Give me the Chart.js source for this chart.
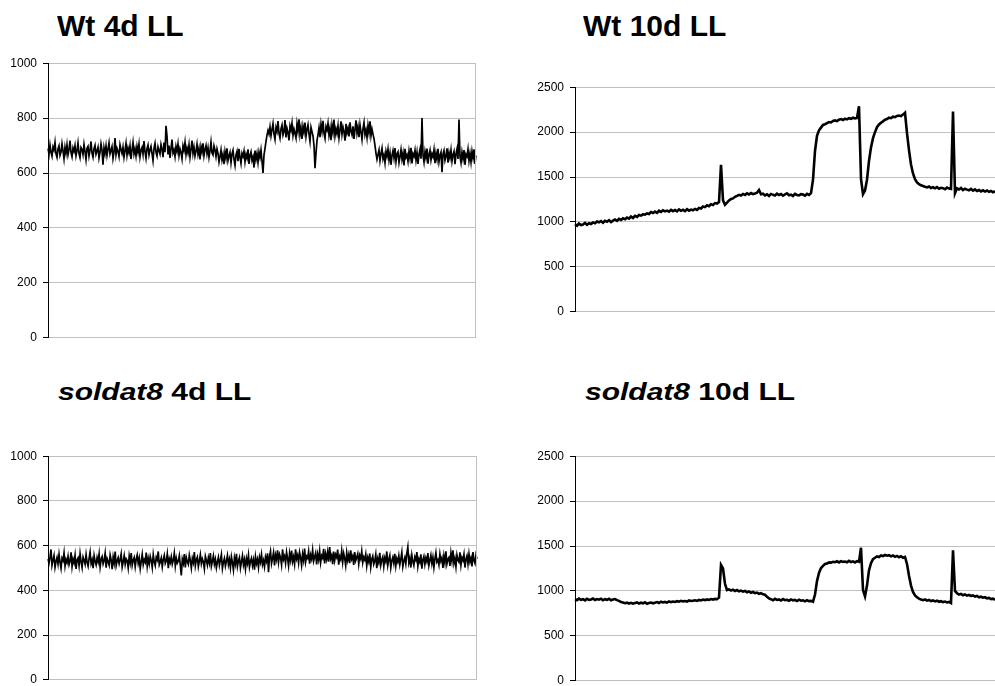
<!DOCTYPE html>
<html>
<head>
<meta charset="utf-8">
<script src="https://cdn.jsdelivr.net/npm/chart.js@4"></script>
<style>
  html, body { margin: 0; padding: 0; width: 995px; height: 686px; overflow: hidden; background: #fff; }
  .panel { position: absolute; }
  .panel canvas { display: block; }
  .title {
    position: absolute;
    font-family: "Liberation Sans", Arial, sans-serif;
    font-weight: bold;
    font-size: 30px;
    line-height: 30px;
    white-space: nowrap;
    color: #000;
    transform-origin: 0 25.4px;
  }
</style>
</head>
<body>
<div class="title" style="left:57px;top:10.6px;transform:scaleY(0.96)">Wt 4d LL</div>
<div class="title" style="left:583px;top:10.6px;transform:scaleY(0.96)">Wt 10d LL</div>
<div class="title" style="left:58px;top:374.6px;transform:scaleY(0.81)"><i>soldat8</i> 4d LL</div>
<div class="title" style="left:585px;top:374.6px;transform:scaleY(0.81)"><i>soldat8</i> 10d LL</div>

<div class="panel" style="left:0px;top:50px"><canvas id="wt4" width="486" height="301"></canvas></div>
<div class="panel" style="left:527px;top:74px"><canvas id="wt10" width="478" height="251"></canvas></div>
<div class="panel" style="left:0px;top:443px"><canvas id="sol4" width="487" height="250"></canvas></div>
<div class="panel" style="left:527px;top:443px"><canvas id="sol10" width="478" height="251"></canvas></div>

<script>
// y-axis tick values for the two scale ranges
const yTicks4d = [0, 200, 400, 600, 800, 1000];
const yTicks10d = [0, 500, 1000, 1500, 2000, 2500];

// Wt, 4 days constant light
const wt4d = [
  690,668,702,675,661,695,684,712,670,657,
  688,699,664,676,707,681,652,694,672,703,
  666,685,718,674,659,691,679,700,663,682,
  710,671,656,693,686,667,704,678,649,690,
  697,662,683,715,673,658,689,701,668,680,
  694,655,675,706,684,630,692,671,699,664,
  687,710,669,681,696,653,676,727,667,690,
  679,660,703,686,671,694,658,682,708,665,
  691,674,699,651,684,712,670,688,662,697,
  676,705,659,683,693,668,716,678,654,689,
  702,666,684,697,672,645,690,708,675,662,
  695,681,669,704,687,658,711,676,
  772,735,
  668,700,655,689,722,673,684,660,697,679,
  706,664,688,675,652,699,683,712,667,691,
  673,702,658,686,718,671,694,662,680,705,
  669,689,650,696,677,708,663,685,700,670,
  692,657,681,713,674,666,699,684,660,688,
  672,640,660,684,648,667,632,678,655,690,
  645,662,675,638,670,683,650,628,666,679,
  643,688,657,635,672,661,680,641,668,654,
  686,633,664,677,646,659,620,682,650,671,
  639,676,657,684,644,600,
  665,690,715,738,755,742,768,
  735,758,780,741,722,766,752,
  789,744,727,761,775,738,750,793,730,763,
  748,719,771,756,782,737,760,745,728,779,
  753,796,740,765,724,770,749,784,733,758,
  776,742,715,767,751,735,
  700,618,672,718,
  740,765,731,778,752,790,744,726,769,757,
  781,738,762,720,774,749,795,735,760,743,
  772,728,756,788,741,767,750,718,779,746,
  763,733,785,752,739,770,724,758,792,745,
  768,731,776,750,722,762,784,740,757,729,
  773,747,788,736,760,742,
  725,700,672,650,668,
  684,645,671,690,652,666,637,679,661,
  687,648,673,630,664,682,655,691,642,669,
  677,638,660,685,650,672,628,688,657,666,
  643,680,654,692,635,670,661,683,647,675,
  633,668,686,652,
  800,665,
  640,678,656,689,634,667,683,648,670,659,
  685,636,672,650,688,641,664,676,603,669,
  682,646,661,690,638,674,655,684,643,667,
  679,632,670,688,651,
  795,660,
  638,676,652,684,630,668,660,687,645,671,
  640,679,655,686,633,664
];

// Wt, 10 days constant light
const wt10d = [
  975,958,982,966,972,990,969,985,977,995,
  985,1004,996,1010,991,1012,1003,1020,998,1015,
  1028,1012,1035,1022,1040,1030,1048,1036,1060,1044,
  1068,1056,1078,1070,1085,1082,1095,1088,1110,1100,
  1115,1102,1125,1112,1130,1118,1126,1114,1135,1120,
  1132,1118,1140,1124,1135,1121,1142,1126,1138,1130,
  1145,1133,1155,1150,1172,1165,1185,1175,1198,1190,
  1210,1205,1222,
  1637,1240,1192,1215,1240,1255,1262,1280,1290,1302,
  1295,1312,1300,1318,1306,1322,1310,1316,1325,1355,1308,
  1315,1296,1308,1290,1312,1302,1295,1316,1300,1310,
  1292,1306,1318,1298,1304,1289,1313,1301,1296,1310,
  1305,1293,1312,1300,1320,
  1470,1790,1960,2020,2050,2080,2088,2100,2112,2108,2125,
  2130,2122,2138,2145,2135,2150,2142,2155,2148,2160,2152,2158,
  2287,1480,1310,1350,1470,1680,1830,1933,
  2000,2055,2085,2105,2120,2138,2145,2160,2155,2172,2168,2180,2185,2178,2195,2215,
  1990,1800,1640,1540,1475,1440,1420,1408,1400,1392,1385,1395,1378,1386,
  1374,1388,1370,1380,1376,1365,1384,1372,1368,
  2229,1320,1375,1362,
  1378,1355,1370,1360,1352,1368,1348,1362,1345,1356,
  1340,1352,1338,1350,1335,1345,1330,1342
];

// soldat8, 4 days constant light
const soldat8_4d = [
  540,521,548,583,512,535,556,503,529,547,
  518,561,526,499,544,533,568,509,538,524,
  552,515,531,570,507,540,523,557,496,536,
  545,511,564,528,502,549,534,517,560,525,
  508,543,571,520,537,499,555,530,514,547,
  527,562,505,539,551,518,533,566,501,542,
  529,513,558,536,495,548,522,573,510,531,
  546,519,538,563,504,527,555,516,541,532,
  500,553,524,567,512,535,547,506,539,558,
  521,544,497,530,561,515,537,526,569,508,
  543,518,552,533,502,560,529,511,548,536,
  574,514,527,545,505,538,556,520,532,563,
  499,541,525,550,517,535,566,509,544,522,
  531,555,512,467,539,521,562,503,547,528,
  516,558,534,500,543,525,571,511,538,549,
  506,532,560,519,541,527,497,553,535,513,
  546,523,567,508,530,554,517,539,501,528,
  548,512,535,560,498,526,543,509,531,556,
  515,538,502,550,524,491,545,519,563,507,
  532,547,500,528,555,514,537,496,542,521,
  558,505,530,544,511,536,493,551,520,539,
  503,548,527,560,515,534,506,549,
  531,566,481,552,575,520,543,569,512,558,538,579,
  526,561,547,515,583,539,553,522,571,544,
  510,565,536,578,529,550,518,584,541,557,
  523,570,548,513,562,535,587,527,552,544,
  574,519,558,540,580,531,549,567,516,561,
  537,576,524,555,545,586,520,563,539,571,
  528,594,542,556,517,573,534,560,548,582,
  515,551,538,577,526,565,543,511,568,535,
  559,522,579,540,553,514,571,533,547,563,
  518,556,541,575,525,549,537,562,
  510,546,528,565,504,539,553,517,531,560,499,542,
  524,568,513,537,550,507,545,529,574,512,
  538,556,501,533,548,521,563,509,542,527,
  555,515,540,570,506,531,547,519,566,594,
  523,544,502,558,530,512,549,536,571,508,
  540,526,561,497,537,552,516,545,529,567,
  511,534,557,520,548,503,541,569,527,536,
  514,562,531,545,500,553,523,575,518,539,
  547,509,566,532,579,521,543,505,558,536,
  527,570,513,546,534,561,502,540,555,518,
  563,528,545,507,571,533,520,558,540
];

// soldat8, 10 days constant light
const soldat8_10d = [
  910,898,915,902,908,895,912,900,906,916,
  899,910,903,914,896,908,901,913,897,905,
  910,898,890,878,872,864,870,860,868,858,
  866,872,860,869,862,874,858,866,871,863,
  870,876,866,880,872,878,870,884,876,882,
  878,886,880,890,884,888,882,894,888,892,
  896,890,900,894,904,898,906,900,910,904,
  912,908,925,
  1290,1250,1080,1010,1018,
  1005,1015,1000,1010,996,1004,992,1000,986,994,
  980,988,975,982,968,975,962,958,
  935,918,
  908,896,912,900,905,893,910,898,902,890,
  906,895,900,888,903,892,896,885,898,887,890,880,
  960,1110,1200,1255,1280,1300,1305,1318,
  1315,1325,1320,1330,1318,1332,1324,1328,1320,1335,
  1322,1330,1318,1332,1325,
  1481,1010,940,1060,1230,1310,1355,
  1370,1385,1378,1395,1388,1400,1392,1398,1385,1395,
  1380,1390,1375,1386,1370,1378,
  1300,1170,1060,990,950,930,915,905,
  898,906,892,900,888,895,884,892,880,886,
  876,882,872,878,865,
  1452,1000,975,
  960,968,952,962,948,955,944,950,938,945,
  930,936,925,930,918,922,910,914,900
];

// Thin grey line closing the plot area on its right side
const rightFrame = {
  id: 'rightFrame',
  afterDraw(chart, args, opts) {
    if (!opts.show) return;
    const { ctx, chartArea: a } = chart;
    const x = Math.round(a.right) - 0.5;
    ctx.save();
    ctx.strokeStyle = '#c0c0c0';
    ctx.lineWidth = 1;
    ctx.beginPath();
    ctx.moveTo(x, Math.round(a.top));
    ctx.lineTo(x, Math.round(a.bottom));
    ctx.stroke();
    ctx.restore();
  }
};

function drawTrace(canvasId, values, yTicks, lineWidth, closeRight) {
  const top = yTicks[yTicks.length - 1];
  return new Chart(document.getElementById(canvasId), {
    type: 'line',
    data: {
      labels: values.map((_, i) => i),
      datasets: [{
        data: values,
        borderColor: '#000',
        borderWidth: lineWidth,
        pointRadius: 0,
        tension: 0,
        fill: false
      }]
    },
    options: {
      responsive: false,
      animation: false,
      events: [],
      layout: { padding: { left: 0, top: 10, right: 10, bottom: 10 } },
      plugins: {
        legend: { display: false },
        tooltip: { enabled: false },
        rightFrame: { show: closeRight }
      },
      scales: {
        x: { display: false },
        y: {
          min: 0,
          max: top,
          afterBuildTicks: s => { s.ticks = yTicks.map(v => ({ value: v })); },
          afterFit: s => { s.width = 48; },
          grid: { color: '#c0c0c0', lineWidth: 1, tickColor: '#000', tickLength: 5, drawTicks: true },
          border: { display: true, color: '#000', width: 1 },
          ticks: {
            color: '#000',
            padding: 6,
            callback: v => String(v),
            font: { family: '"Liberation Sans", Arial, sans-serif', size: 12 }
          }
        }
      }
    },
    plugins: [rightFrame]
  });
}

drawTrace('wt4', wt4d, yTicks4d, 1.7, true);
drawTrace('wt10', wt10d, yTicks10d, 2.6, false);
drawTrace('sol4', soldat8_4d, yTicks4d, 1.7, true);
drawTrace('sol10', soldat8_10d, yTicks10d, 2.6, false);
</script>
</body>
</html>
